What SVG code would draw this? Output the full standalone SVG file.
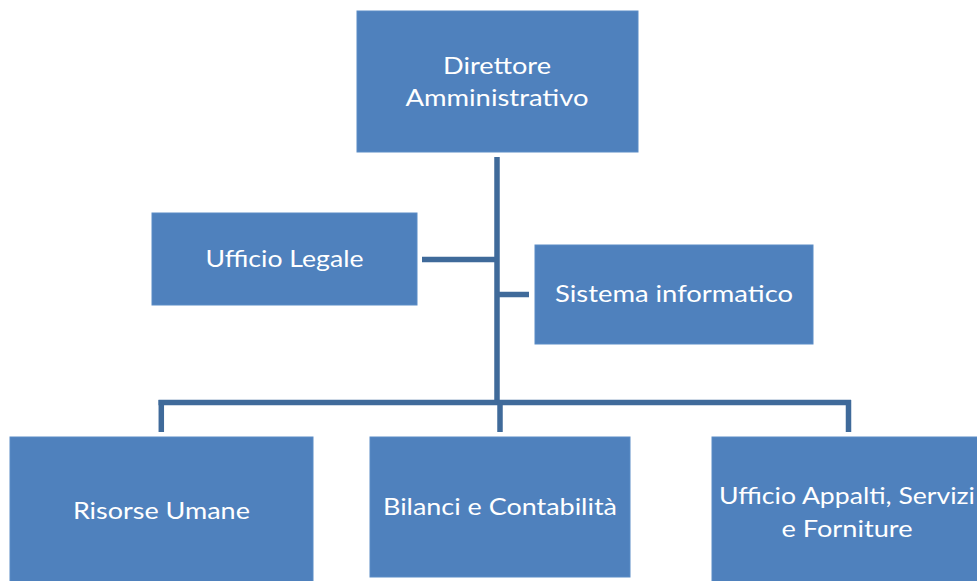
<svg xmlns="http://www.w3.org/2000/svg" width="977" height="581" viewBox="0 0 977 581">
<style>
.box{fill:#4F81BD;stroke:#5B8CC6;stroke-width:1}
.lbl{font-family:Lato,"Liberation Sans",sans-serif;font-size:24px;fill:#FFFFFF;text-anchor:middle}
.conn{stroke:#3F6A9A;stroke-width:5.5;fill:none;stroke-linecap:butt}
</style>
<rect width="977" height="581" fill="#FFFFFF"/>
<g id="connectors">
<line class="conn" x1="497" y1="157" x2="497" y2="405"/>
<line class="conn" x1="422" y1="259.5" x2="497" y2="259.5"/>
<line class="conn" x1="497" y1="294.5" x2="529" y2="294.5"/>
<line class="conn" x1="158.5" y1="402.5" x2="851" y2="402.5"/>
<line class="conn" x1="161.3" y1="400" x2="161.3" y2="432"/>
<line class="conn" x1="500" y1="400" x2="500" y2="432"/>
<line class="conn" x1="848.5" y1="400" x2="848.5" y2="432"/>
</g>
<g id="direttore">
<rect class="box" x="357" y="11" width="281" height="141"/>
<text class="lbl" x="497" y="74" textLength="108" lengthAdjust="spacingAndGlyphs">Direttore</text>
<text class="lbl" x="497" y="106" textLength="183" lengthAdjust="spacingAndGlyphs">Amministrativo</text>
</g>
<g id="ufficio-legale">
<rect class="box" x="152" y="213" width="265" height="92"/>
<text class="lbl" x="284.5" y="267" textLength="158" lengthAdjust="spacingAndGlyphs">Ufficio Legale</text>
</g>
<g id="sistema-informatico">
<rect class="box" x="535" y="245" width="278" height="99"/>
<text class="lbl" x="674" y="302" textLength="238" lengthAdjust="spacingAndGlyphs">Sistema informatico</text>
</g>
<g id="risorse-umane">
<rect class="box" x="10" y="437" width="303" height="150"/>
<text class="lbl" x="161.4" y="519" textLength="177" lengthAdjust="spacingAndGlyphs">Risorse Umane</text>
</g>
<g id="bilanci">
<rect class="box" x="370" y="437" width="260" height="140"/>
<text class="lbl" x="500" y="515" textLength="234" lengthAdjust="spacingAndGlyphs">Bilanci e Contabilità</text>
</g>
<g id="ufficio-appalti">
<rect class="box" x="712" y="437" width="272" height="150"/>
<text class="lbl" x="847" y="504" textLength="256" lengthAdjust="spacingAndGlyphs">Ufficio Appalti, Servizi</text>
<text class="lbl" x="847" y="537" textLength="131" lengthAdjust="spacingAndGlyphs">e Forniture</text>
</g>
</svg>
